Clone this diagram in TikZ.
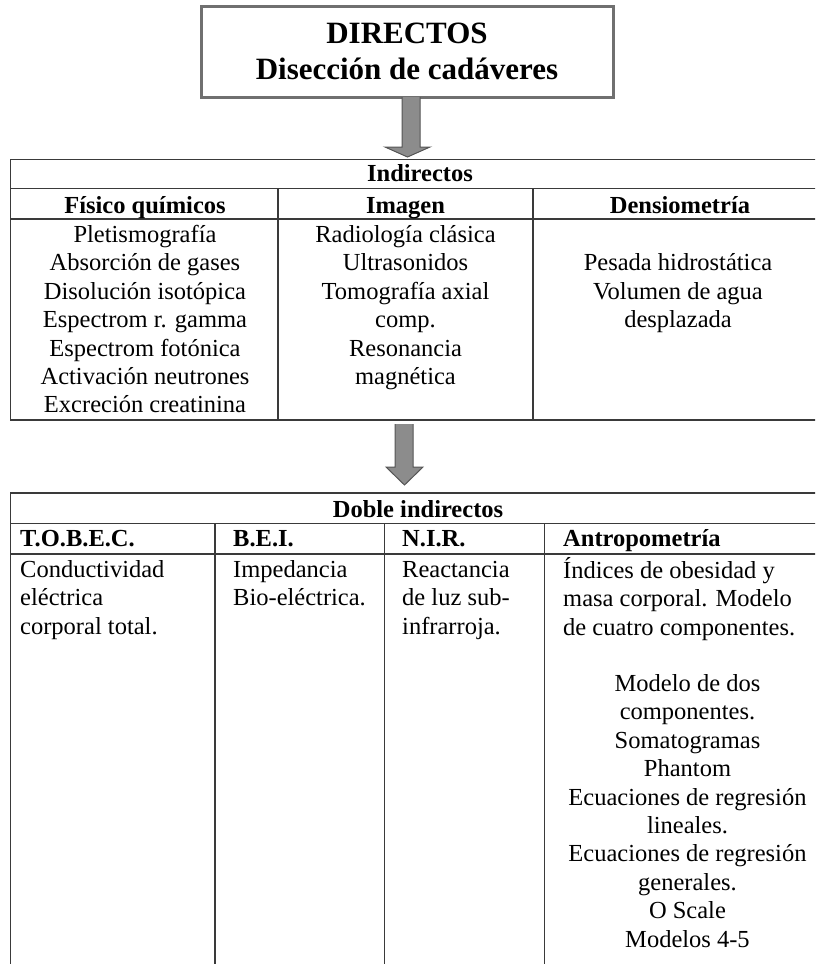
\documentclass[tikz,border=0pt]{standalone}
\usepackage{fontspec}
\setmainfont{Liberation Serif}
\definecolor{tablecol}{HTML}{3A3A3A}
\definecolor{boxcol}{HTML}{707070}
\definecolor{arrowfill}{HTML}{8C8C8C}
\definecolor{arrowline}{HTML}{555555}
\tikzset{
  tline/.style={draw=tablecol, line width=1.6pt},
  cell/.style={font=\fontsize{24.5}{28.45}\selectfont, inner sep=0pt, anchor=north},
  headcell/.style={font=\bfseries\fontsize{24.5}{28.45}\selectfont, inner sep=0pt, anchor=north},
  bigarrow/.style={fill=arrowfill, draw=arrowline, line width=1pt, line join=miter},
}
\newcommand{\st}{\strut}
\begin{document}
\begin{tikzpicture}[x=1pt, y=-1pt]
\useasboundingbox (0,0) rectangle (815,964);
\clip (0,0) rectangle (815,964);
\fill[white] (0,0) rectangle (815,964);

% top box
\node[draw=boxcol, line width=3pt, minimum width=412pt, minimum height=91pt, inner sep=0pt,
      font=\bfseries\fontsize{31}{36.7}\selectfont, align=center] (dir) at (407,51.5)
      {DIRECTOS\\Disección de cadáveres};

% arrow 1
\coordinate (a1) at (411,97);
\draw[bigarrow] (402,97) -- (402,147) -- (385,147) -- (407.5,157) -- (430,147) -- (420,147) -- (420,97);

% top table
\coordinate (t1nw) at (10.5,159.5);
\draw[tline] (830,159.5) -- (t1nw) -- (10.5,420) -- (830,420);
\draw[tline] (10.5,188.3) -- (830,188.3);
\draw[tline] (10.5,219) -- (830,219);
\draw[tline] (278,188.3) -- (278,420);
\draw[tline] (533,188.3) -- (533,420);

\node[headcell] (ind) at (420,181.5-19.9) {\st Indirectos};
\node[headcell] (fq) at (145,213.3-19.9) {\st Físico químicos};
\node[headcell] (img) at (405.5,213.3-19.9) {\st Imagen};
\node[headcell] (den) at (680,213.3-19.9) {\st Densiometría};

\node[cell, align=center] (fqb) at (145,242-19.9) {\st Pletismografía\\Absorción de gases\\Disolución isotópica\\Espectrom r. gamma\\Espectrom fotónica\\Activación neutrones\\Excreción creatinina};
\node[cell, align=center] (imgb) at (405.5,242-19.9) {\st Radiología clásica\\Ultrasonidos\\Tomografía axial\\comp.\\Resonancia\\magnética};
\node[cell, align=center] (denb) at (678,270.4-19.9) {\st Pesada hidrostática\\Volumen de agua\\desplazada};

% arrow 2
\draw[bigarrow] (395,424) -- (395,467) -- (386,467) -- (404.5,485) -- (423,467) -- (413,467) -- (413,424);

% bottom table
\draw[tline] (830,493) -- (10.5,493) -- (10.5,970);
\draw[tline] (10.5,523.3) -- (830,523.3);
\draw[tline] (10.5,554) -- (830,554);
\draw[tline] (215,523.3) -- (215,970);
\draw[tline] (384.3,523.3) -- (384.3,970);
\draw[tline] (544.5,523.3) -- (544.5,970);

\node[headcell] (dob) at (418,517.3-19.9) {\st Doble indirectos};
\node[headcell, anchor=north west] (tob) at (20,546.7-19.9) {\st T.O.B.E.C.};
\node[headcell, anchor=north west] (bei) at (233,546.7-19.9) {\st B.E.I.};
\node[headcell, anchor=north west] (nir) at (402,546.7-19.9) {\st N.I.R.};
\node[headcell, anchor=north west] (ant) at (563,546.7-19.9) {\st Antropometría};

\node[cell, anchor=north west, align=left] (tobb) at (20,577-19.9) {\st Conductividad\\eléctrica\\corporal total.};
\node[cell, anchor=north west, align=left] (beib) at (233,577-19.9) {\st Impedancia\\Bio-eléctrica.};
\node[cell, anchor=north west, align=left] (nirb) at (402,577-19.9) {\st Reactancia\\de luz sub-\\infrarroja.};
\node[cell, anchor=north west, align=left] (antb) at (563,577-19.9) {\st Índices de obesidad y\\masa corporal. Modelo\\de cuatro componentes.};
\node[cell, align=center] (antc) at (687.5,691-19.9) {\st Modelo de dos\\componentes.\\Somatogramas\\Phantom\\Ecuaciones de regresión\\lineales.\\Ecuaciones de regresión\\generales.\\O Scale\\Modelos 4-5};
\end{tikzpicture}
\end{document}
